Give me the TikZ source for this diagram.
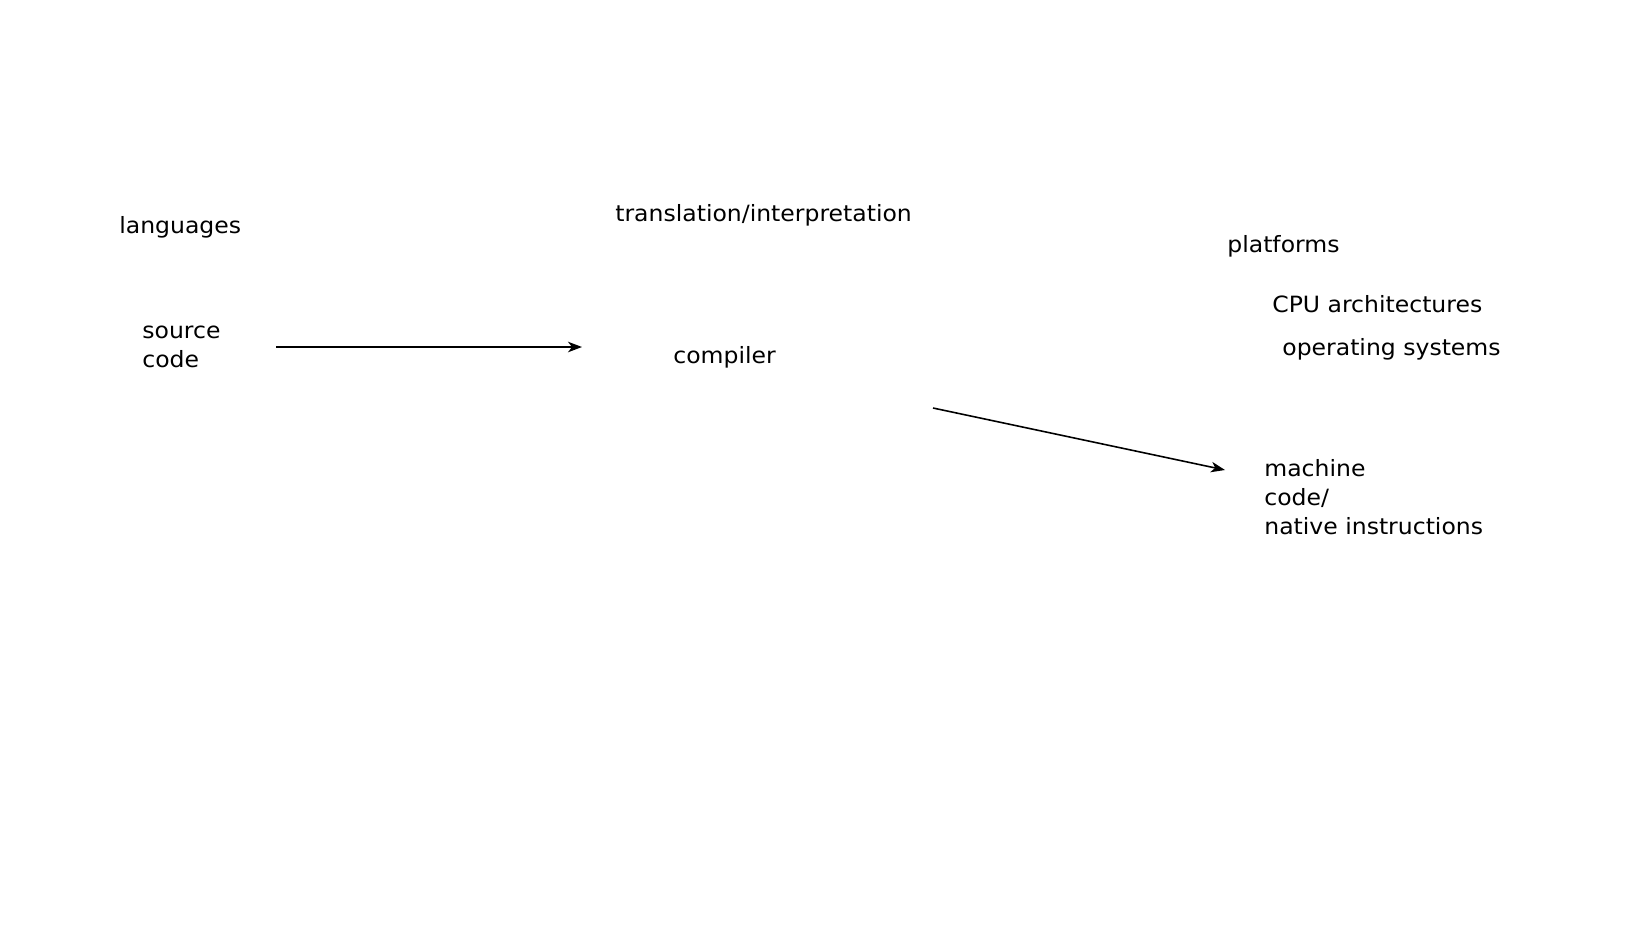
\documentclass[tikz,border=0pt]{standalone}
\usepackage{fontspec}
\setmainfont[FakeStretch=1.05]{DejaVu Sans}
\usetikzlibrary{arrows.meta}
\begin{document}
\begin{tikzpicture}[x=0.02cm,y=-0.02cm,
  lbl/.style={inner sep=0pt,anchor=base west,align=left,font=\fontsize{12.75pt}{16.5pt}\selectfont},
  conn/.style={line width=0.9pt,-{Stealth[length=0.28cm,width=0.21cm,inset=0.08cm]}}]
\useasboundingbox (0,0) rectangle (1648,927);
\node[lbl] (lang) at (119,233) {languages};
\node[lbl] (trans) at (615,221) {translation/interpretation};
\node[lbl] (plat) at (1227,252) {platforms};
\node[lbl] (cpu) at (1272,312) {CPU architectures};
\node[lbl] (os) at (1282,355) {operating systems};
\node[lbl] (src) at (142,367) {source\\code};
\node[lbl] (comp) at (673,363) {compiler};
\node[lbl] (mach) at (1264,534) {machine\\code/\\native instructions};
\coordinate (a1s) at (276,347);
\coordinate (a1e) at (582,347);
\coordinate (a2s) at (933,408);
\coordinate (a2e) at (1225,470);
\draw[conn] (a1s) -- (a1e);
\draw[conn] (a2s) -- (a2e);
\end{tikzpicture}
\end{document}
